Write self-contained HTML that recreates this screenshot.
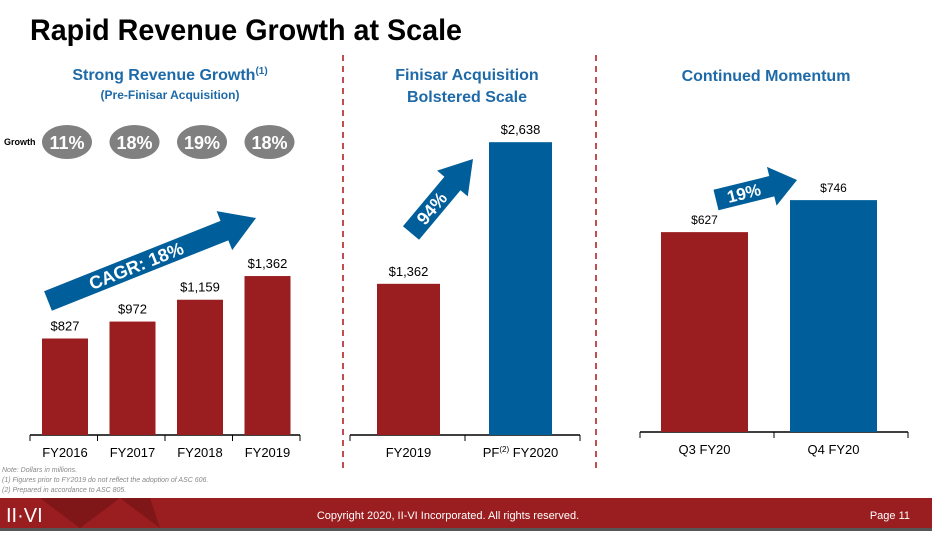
<!DOCTYPE html>
<html><head><meta charset="utf-8">
<style>
body{margin:0;width:932px;height:531px;overflow:hidden;background:#fff;font-family:"Liberation Sans",sans-serif;}
svg text{font-family:"Liberation Sans",sans-serif;}
</style></head>
<body>
<svg id="c" width="932" height="531" viewBox="0 0 932 531">
<text x="30" y="40" font-size="30" font-weight="bold" fill="#000" textLength="432" lengthAdjust="spacingAndGlyphs">Rapid Revenue Growth at Scale</text>
<text x="170" y="80" font-size="16" font-weight="bold" fill="#1e6aa8" text-anchor="middle">Strong Revenue Growth<tspan font-size="10" dy="-6">(1)</tspan></text>
<text x="170" y="99" font-size="12" font-weight="bold" fill="#1e6aa8" text-anchor="middle">(Pre-Finisar Acquisition)</text>
<text x="467" y="80" font-size="16" font-weight="bold" fill="#1e6aa8" text-anchor="middle">Finisar Acquisition</text>
<text x="467" y="102" font-size="16" font-weight="bold" fill="#1e6aa8" text-anchor="middle">Bolstered Scale</text>
<text x="766" y="81" font-size="16" font-weight="bold" fill="#1e6aa8" text-anchor="middle">Continued Momentum</text>
<line x1="343" y1="55" x2="343" y2="468" stroke="#c0504d" stroke-width="2" stroke-dasharray="6,5"/>
<line x1="596" y1="55" x2="596" y2="468" stroke="#c0504d" stroke-width="2" stroke-dasharray="6,5"/>
<text x="4" y="145" font-size="9" font-weight="bold">Growth</text>
<g id="g"></g>
<text x="2" y="472" font-size="7" font-style="italic" fill="#888">Note: Dollars in millions.</text>
<text x="2" y="482" font-size="7" font-style="italic" fill="#888">(1)      Figures prior to FY2019 do not reflect the adoption of ASC 606.</text>
<text x="2" y="492" font-size="7" font-style="italic" fill="#888">(2)      Prepared in accordance to ASC 805.</text>
<rect x="0" y="498" width="932" height="30" fill="#9a1d20"/>
<polygon points="40,498 80,528 120,498 160,528 150,498" fill="#6e1214" opacity="0.6"/>
<rect x="0" y="528" width="932" height="3" fill="#555"/>
<text x="6" y="522" font-size="20" font-family="Liberation Serif" fill="#fff">II·VI</text>
<text x="448" y="519" font-size="11" fill="#fff" text-anchor="middle">Copyright 2020, II-VI Incorporated. All rights reserved.</text>
<text x="910" y="519" font-size="11" fill="#fff" text-anchor="end">Page 11</text>
</svg>
<script>
const cats1=["FY2016","FY2017","FY2018","FY2019"];
const vals1=[827,972,1159,1362];
const growth=["11%","18%","19%","18%"];
const cats2=["FY2019","PF FY2020"];
const vals2=[1362,2638];
const cats3=["Q3 FY20","Q4 FY20"];
const vals3=[627,746];
const NS="http://www.w3.org/2000/svg";
const g=document.getElementById('g');
function el(t,a,txt){const e=document.createElementNS(NS,t);for(const k in a)e.setAttribute(k,a[k]);if(txt!=null)e.textContent=txt;g.appendChild(e);return e;}
function fmt(v){return "$"+v.toLocaleString("en-US");}
function panel(cats,vals,base,scale,dmin,x0,step,bw,colors,axis,prefix,fs){
  const y=v=>base-(v-dmin)*scale;
  const ax=el('line',{x1:axis[0],y1:base,x2:axis[1],y2:base,stroke:'#000','stroke-width':1.5});
  
  
  cats.forEach((c,i)=>{
    const x=x0+i*step;
    const r=el('rect',{x:x,y:y(vals[i]),width:bw,height:base-y(vals[i]),fill:colors[i]});
    
    
    const l=el('text',{x:x+bw/2,y:y(vals[i])-8,'font-size':fs,'text-anchor':'middle'},fmt(vals[i]));
    
    
    const t=el('text',{x:x+bw/2,y:base+22,'font-size':13,'text-anchor':'middle'});
    if(c.startsWith("PF ")){t.innerHTML='PF<tspan font-size="8" dy="-5">(2)</tspan><tspan dy="5"> '+c.slice(3)+'</tspan>';}else t.textContent=c;
    
    
  });
  for(let i=0;i<=cats.length;i++){
    const tx=axis[0]+(axis[1]-axis[0])*i/cats.length;
    const tk=el('line',{x1:tx,y1:base,x2:tx,y2:base+6,stroke:'#000'});
    
    
  }
}
const RED='#9a1d20',BLUE='#005f9a';
panel(cats1,vals1,435,0.1167,0,42,67.5,46,[RED,RED,RED,RED],[30,300],'p1',13);
panel(cats2,vals2,435,0.111,0,377,112,63,[RED,BLUE],[350,580],'p2',13);
panel(cats3,vals3,432,0.269,-116,661,129,87,[RED,BLUE],[640,908],'p3',12);
growth.forEach((gr,i)=>{
  const cx=67+i*67.5;
  const e=el('ellipse',{cx:cx,cy:142,rx:25,ry:17,fill:'#808080'});
  
  
  const t=el('text',{x:cx,y:149,'font-size':18,'font-weight':'bold',fill:'#fff','text-anchor':'middle'},gr);
  
  
});
function arrow(x1,y1,x2,y2,sw,hw,hl,label,fs,name){
  const dx=x2-x1,dy=y2-y1,L=Math.hypot(dx,dy),ux=dx/L,uy=dy/L,nx=-uy,ny=ux;
  const bx=x2-ux*hl,by=y2-uy*hl;
  const p=[[x1+nx*sw/2,y1+ny*sw/2],[bx+nx*sw/2,by+ny*sw/2],[bx+nx*hw/2,by+ny*hw/2],[x2,y2],[bx-nx*hw/2,by-ny*hw/2],[bx-nx*sw/2,by-ny*sw/2],[x1-nx*sw/2,y1-ny*sw/2]];
  const a=el('polygon',{points:p.map(q=>q.join(',')).join(' '),fill:BLUE});
  
  
  const mx=(x1+bx)/2,my=(y1+by)/2,ang=Math.atan2(dy,dx)*180/Math.PI;
  const t=el('text',{x:mx,y:my+fs*0.35,'font-size':fs,'font-weight':'bold',fill:'#fff','text-anchor':'middle',transform:`rotate(${ang} ${mx} ${my})`},label);
  
  
}
arrow(48,301,256,218,21,42,34,'CAGR: 18%',18,'cagr-arrow');
arrow(411,233,473,159,21,40,32,'94%',18,'acquisition-arrow');
arrow(716,200,797,180,21,40,26,'19%',17,'momentum-arrow');
</script>
</body></html>
